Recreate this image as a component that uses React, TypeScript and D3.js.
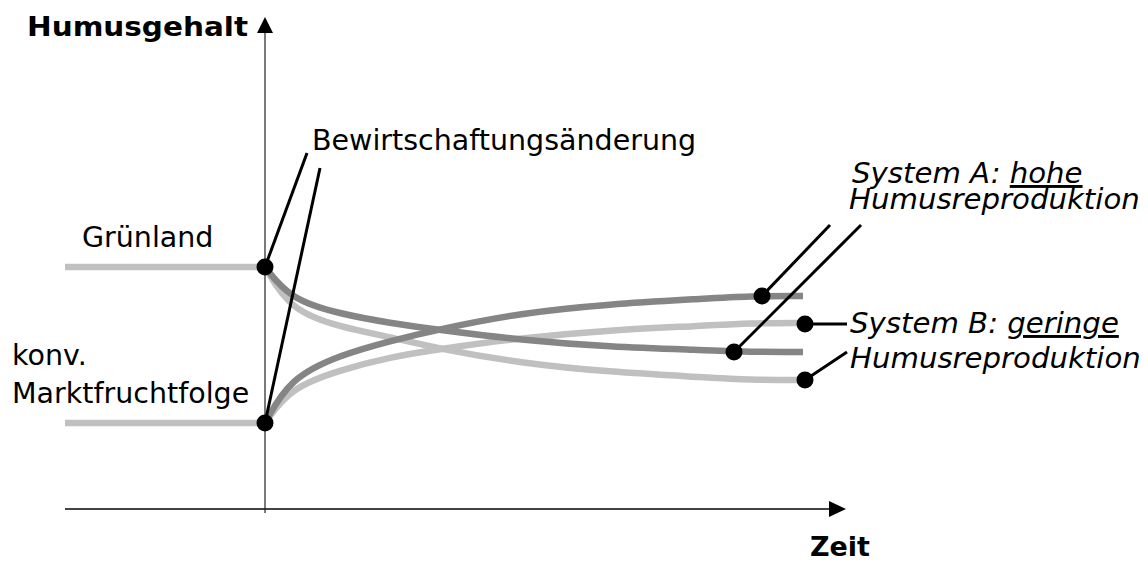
import * as d3 from 'd3';

// Zeitachse (willkürliche Einheiten, 0 = Bewirtschaftungsänderung)
const zeit = [0, 0.25, 0.75, 1.25, 1.75, 2.55, 3.45, 4.35, 4.85, 5.38];
const vorlauf = [-2, 0];

// Humusgehalt (willkürliche Einheiten)
const gruenlandNiveau = 24.2;
const marktNiveau = 8.6;
const systemAvonGruenland = [24.2, 21.0, 19.5, 18.6, 17.9, 16.9, 16.2, 15.9, 15.7, 15.7];
const systemBvonGruenland = [24.2, 19.9, 18.2, 17.2, 16.0, 14.6, 13.7, 13.2, 12.9, 12.9];
const systemAvonMarkt = [8.6, 13.1, 15.4, 16.8, 18.0, 19.6, 20.5, 21.0, 21.3, 21.3];
const systemBvonMarkt = [8.6, 12.1, 13.9, 15.2, 16.0, 17.1, 17.9, 18.3, 18.6, 18.6];

// Markierungspunkte und Hinweislinien [t, h] -> [t, h]
const hinweise: [number, number, number, number][] = [
  [0, 24.2, 0.42, 35.6],
  [0, 8.6, 0.55, 34.1],
  [4.97, 21.3, 5.65, 28.4],
  [4.69, 15.7, 5.96, 28.4],
  [5.4, 18.5, 5.82, 18.5],
  [5.4, 12.9, 5.82, 15.7],
];

const W = 1148;
const H = 563;
const HELL = '#c0c0c0';
const DUNKEL = '#858585';
const FONT = '"DejaVu Sans", Verdana, sans-serif';

export default function App() {
  const x = d3.scaleLinear().domain([-2, 5.81]).range([65, 846]);
  const y = d3.scaleLinear().domain([0, 49.2]).range([509, 17]);

  const line = d3
    .line<[number, number]>()
    .x((d) => x(d[0]))
    .y((d) => y(d[1]))
    .curve(d3.curveBasis);

  const reihe = (werte: number[]) => line(zeit.map((t, i) => [t, werte[i]] as [number, number])) || '';
  const plateau = (h: number) => line(vorlauf.map((t) => [t, h] as [number, number])) || '';

  const x0 = x(0);
  const yAxisTop = y(49.2);
  const xAxisY = y(0);

  return (
    <svg
      width={W}
      height={H}
      style={{ position: 'absolute', left: 0, top: 0, background: '#fff' }}
    >
      {/* Achsen */}
      <line x1={x(-2)} x2={x(5.64)} y1={xAxisY} y2={xAxisY} stroke="#444" strokeWidth={2} />
      <path
        d={`M${x(5.81)},${xAxisY} L${x(5.64)},${xAxisY - 8} L${x(5.64)},${xAxisY + 8} Z`}
        fill="#000"
      />
      <line x1={x0} x2={x0} y1={yAxisTop + 16} y2={xAxisY + 4} stroke="#222" strokeWidth={1.2} />
      <path
        d={`M${x0},${yAxisTop} L${x0 - 8},${yAxisTop + 16} L${x0 + 8},${yAxisTop + 16} Z`}
        fill="#000"
      />

      {/* Ausgangsniveaus */}
      <path d={plateau(gruenlandNiveau)} fill="none" stroke={HELL} strokeWidth={6.5} />
      <path d={plateau(marktNiveau)} fill="none" stroke={HELL} strokeWidth={6.5} />

      {/* Verläufe */}
      <path d={reihe(systemBvonGruenland)} fill="none" stroke={HELL} strokeWidth={6.5} />
      <path d={reihe(systemBvonMarkt)} fill="none" stroke={HELL} strokeWidth={6.5} />
      <path d={reihe(systemAvonGruenland)} fill="none" stroke={DUNKEL} strokeWidth={6.5} />
      <path d={reihe(systemAvonMarkt)} fill="none" stroke={DUNKEL} strokeWidth={6.5} />

      {/* Hinweislinien und Punkte */}
      {hinweise.map(([t, h, t2, h2], i) => (
        <g key={i}>
          <line x1={x(t)} y1={y(h)} x2={x(t2)} y2={y(h2)} stroke="#000" strokeWidth={3} />
          <circle cx={x(t)} cy={y(h)} r={8.5} fill="#000" />
        </g>
      ))}

      {/* Beschriftungen */}
      <g fontFamily={FONT} fill="#000">
        <text x={27} y={36} fontSize={26} fontWeight="bold" textLength={221} lengthAdjust="spacingAndGlyphs">
          Humusgehalt
        </text>
        <text x={810} y={556} fontSize={26} fontWeight="bold" textLength={60} lengthAdjust="spacingAndGlyphs">
          Zeit
        </text>
        <text x={312} y={150} fontSize={28.5}>
          Bewirtschaftungsänderung
        </text>
        <text x={82} y={247} fontSize={28.5}>
          Grünland
        </text>
        <text x={12} y={365} fontSize={28.5}>
          konv.
        </text>
        <text x={12} y={403} fontSize={28.5}>
          Marktfruchtfolge
        </text>

        <text x={852} y={183} fontSize={29.2} fontStyle="italic">
          System A: <tspan textDecoration="underline">hohe</tspan>
        </text>
        <text x={849} y={209} fontSize={29.2} fontStyle="italic">
          Humusreproduktion
        </text>
        <text x={850} y={333} fontSize={29.2} fontStyle="italic">
          System B: <tspan textDecoration="underline">geringe</tspan>
        </text>
        <text x={850} y={368} fontSize={29.2} fontStyle="italic">
          Humusreproduktion
        </text>
      </g>
    </svg>
  );
}
